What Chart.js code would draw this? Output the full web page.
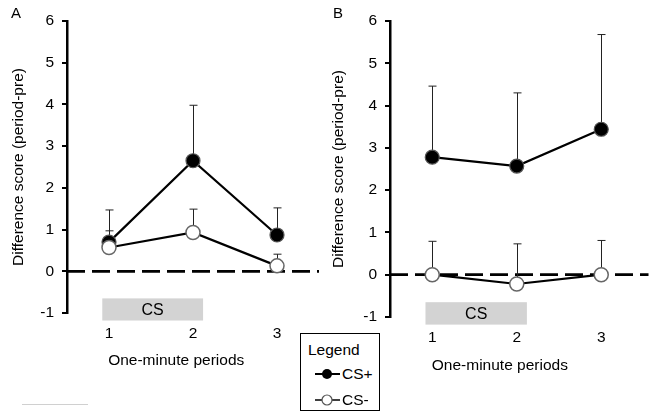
<!DOCTYPE html>
<html>
<head>
<meta charset="utf-8">
<script src="https://cdn.jsdelivr.net/npm/chart.js@4.4.1/dist/chart.umd.min.js"></script>
<style>
  body { margin: 0; background: #fff; font-family: "Liberation Sans", Arial, sans-serif; }
  #wrap { position: relative; width: 652px; height: 415px; overflow: hidden; background: #fff; }
  canvas { position: absolute; top: 0; }
  #chartA { left: 0; }
  #chartB { left: 322px; }
  .tag { position: absolute; font-size: 15px; color: #000; line-height: 15px; }
  #legend {
    position: absolute; left: 300px; top: 333px; width: 78px; height: 76px;
    border: 1px solid #000; background: #fff; font-size: 15.5px; color: #000;
  }
  #legend .lt { position: absolute; left: 7px; top: 7px; }
  #legend .row { position: absolute; left: 13px; height: 16px; display: flex; align-items: center; }
  #legend svg { display: block; }
  #rule { position: absolute; left: 22px; top: 404px; width: 66px; height: 1px; background: #d0d0d0; }
</style>
</head>
<body>
<div id="wrap">
  <canvas id="chartA" width="330" height="415"></canvas>
  <canvas id="chartB" width="330" height="415"></canvas>
  <div class="tag" style="left:11px; top:5px;">A</div>
  <div class="tag" style="left:333px; top:5px;">B</div>
  <div id="legend">
    <div class="lt">Legend</div>
    <div class="row" style="top:32px;">
      <svg width="28" height="14"><line x1="1" y1="7" x2="26" y2="7" stroke="#000" stroke-width="2"/><circle cx="13" cy="7" r="5" fill="#000"/></svg>CS+
    </div>
    <div class="row" style="top:58px;">
      <svg width="28" height="14"><line x1="1" y1="7" x2="26" y2="7" stroke="#000" stroke-width="1.5"/><circle cx="13" cy="7" r="5" fill="#fff" stroke="#555" stroke-width="1.2"/></svg>CS-
    </div>
  </div>
  <div id="rule"></div>
</div>
<script>
const periods = [1, 2, 3];
const yTickValues = [-1, 0, 1, 2, 3, 4, 5, 6];

// Panel A (means and upper error bar lengths)
const csPlusA = [0.70, 2.65, 0.87];
const csPlusErrA = [0.77, 1.33, 0.65];
const csMinusA = [0.57, 0.93, 0.13];
const csMinusErrA = [0.40, 0.56, 0.28];

// Panel B
const csPlusB = [2.78, 2.57, 3.44];
const csPlusErrB = [1.68, 1.73, 2.24];
const csMinusB = [0.0, -0.22, 0.0];
const csMinusErrB = [0.79, 0.95, 0.81];

// CS presentation spans periods 1-2
const csSpan = [0.92, 2.12];

Chart.defaults.font.family = '"Liberation Sans", Arial, sans-serif';
Chart.defaults.color = '#000';

const overlay = {
    id: 'overlay',
    beforeDatasetsDraw(chart, args, opts) {
        const { ctx, chartArea, scales: { x, y } } = chart;
        ctx.save();
        // dashed zero line
        const y0 = y.getPixelForValue(0);
        ctx.strokeStyle = '#000';
        ctx.lineWidth = 2.8;
        ctx.setLineDash([18, 7]);
        ctx.beginPath();
        ctx.moveTo(chartArea.left, y0);
        ctx.lineTo(chartArea.right + opts.zeroExtra, y0);
        ctx.stroke();
        // upward error bars
        ctx.setLineDash([]);
        ctx.lineWidth = 1;
        ctx.strokeStyle = '#222';
        chart.data.datasets.forEach(ds => {
            ds.data.forEach((p, i) => {
                const px = Math.round(x.getPixelForValue(p.x)) + 0.5;
                const top = y.getPixelForValue(p.y + ds.errors[i]);
                const bot = y.getPixelForValue(p.y);
                ctx.beginPath();
                ctx.moveTo(px, bot);
                ctx.lineTo(px, top);
                ctx.moveTo(px - 4, top);
                ctx.lineTo(px + 4, top);
                ctx.stroke();
            });
        });
        ctx.restore();
    },
    afterDraw(chart, args, opts) {
        const { ctx, chartArea, scales: { x, y } } = chart;
        ctx.save();
        // CS box
        const x1 = x.getPixelForValue(csSpan[0]);
        const x2 = x.getPixelForValue(csSpan[1]);
        const yTop = y.getPixelForValue(-0.65);
        const yBot = y.getPixelForValue(-1.18);
        ctx.fillStyle = '#d3d3d3';
        ctx.fillRect(x1, yTop, x2 - x1, yBot - yTop);
        ctx.fillStyle = '#000';
        ctx.font = '16px "Liberation Sans", Arial, sans-serif';
        ctx.textAlign = 'center';
        ctx.textBaseline = 'middle';
        ctx.fillText('CS', (x1 + x2) / 2, (yTop + yBot) / 2 + 1);
        // x axis title
        ctx.font = '15.5px "Liberation Sans", Arial, sans-serif';
        ctx.fillText('One-minute periods', x.getPixelForValue(1.8), chartArea.bottom + opts.titleGap);
        ctx.restore();
    }
};

function makeChart(id, plus, plusErr, minus, minusErr, cfg) {
    return new Chart(document.getElementById(id), {
        type: 'line',
        data: {
            datasets: [
                {
                    label: 'CS-',
                    data: periods.map((p, i) => ({ x: p, y: minus[i] })),
                    errors: minusErr,
                    borderColor: '#000',
                    borderWidth: 2.2,
                    pointRadius: 7,
                    pointBackgroundColor: '#fff',
                    pointBorderColor: '#666',
                    pointBorderWidth: 1.5,
                    tension: 0,
                    order: 0,
                },
                {
                    label: 'CS+',
                    data: periods.map((p, i) => ({ x: p, y: plus[i] })),
                    errors: plusErr,
                    borderColor: '#000',
                    borderWidth: 2.2,
                    pointRadius: 7,
                    pointBackgroundColor: '#000',
                    pointBorderColor: '#555',
                    pointBorderWidth: 1.2,
                    tension: 0,
                    order: 1,
                },
            ],
        },
        options: {
            responsive: false,
            animation: false,
            layout: { padding: { top: 21, left: 0, right: cfg.rightPad, bottom: 0 } },
            plugins: {
                legend: { display: false },
                tooltip: { enabled: false },
                overlay: { zeroExtra: cfg.zeroExtra, titleGap: cfg.titleGap },
            },
            scales: {
                x: {
                    type: 'linear',
                    min: 0.5,
                    max: 3.5,
                    afterBuildTicks: s => { s.ticks = periods.map(v => ({ value: v })); },
                    afterFit: s => { s.height = cfg.bottomPad; },
                    grid: { display: false, drawTicks: false, tickLength: 0 },
                    border: { display: false },
                    ticks: { font: { size: 15.5 }, padding: 11, maxRotation: 0 },
                },
                y: {
                    min: -1,
                    max: 6,
                    afterBuildTicks: s => { s.ticks = yTickValues.map(v => ({ value: v })); },
                    afterFit: s => { s.width = cfg.yWidth; },
                    grid: { drawOnChartArea: false, drawTicks: true, tickLength: 5, color: '#000', lineWidth: 2 },
                    border: { display: true, color: '#000', width: 2.5 },
                    ticks: { font: { size: 15.5 }, padding: 8 },
                    title: {
                        display: true,
                        text: 'Difference score (period-pre)',
                        font: { size: 15.5 },
                        padding: { top: cfg.yTitlePad, bottom: 0 },
                    },
                },
            },
        },
        plugins: [overlay],
    });
}

makeChart('chartA', csPlusA, csPlusErrA, csMinusA, csMinusErrA,
    { yWidth: 67, bottomPad: 102, rightPad: 11, yTitlePad: 9, zeroExtra: 0, titleGap: 48 });
makeChart('chartB', csPlusB, csPlusErrB, csMinusB, csMinusErrB,
    { yWidth: 68, bottomPad: 98, rightPad: 7, yTitlePad: 7, zeroExtra: 5, titleGap: 49 });
</script>
</body>
</html>
